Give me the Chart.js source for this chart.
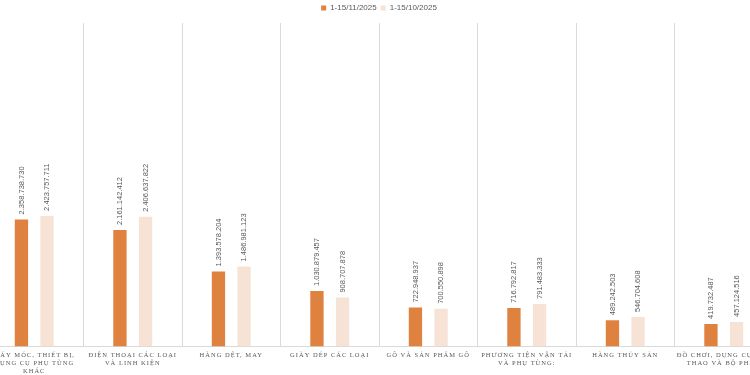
<!DOCTYPE html>
<html>
<head>
<meta charset="utf-8">
<script src="https://cdn.jsdelivr.net/npm/chart.js@4/dist/chart.umd.min.js"></script>
<style>
  html, body { margin: 0; padding: 0; background: #fff; overflow: hidden; width: 750px; height: 375px; }
  #wrap { position: absolute; left: -15px; top: 0; width: 788px; height: 375px; }
</style>
</head>
<body>
<div id="wrap"><canvas id="c"></canvas></div>
<script>
const categories = [
  ["MÁY MÓC, THIẾT BỊ,", "DỤNG CỤ PHỤ TÙNG", "KHÁC"],
  ["ĐIỆN THOẠI CÁC LOẠI", "VÀ LINH KIỆN"],
  ["HÀNG DỆT, MAY"],
  ["GIÀY DÉP CÁC LOẠI"],
  ["GỖ VÀ SẢN PHẨM GỖ"],
  ["PHƯƠNG TIỆN VẬN TẢI", "VÀ PHỤ TÙNG:"],
  ["HÀNG THỦY SẢN"],
  ["ĐỒ CHƠI, DỤNG CỤ THỂ", "THAO VÀ BỘ PHẬN"]
];
const seriesNames = ["1-15/11/2025", "1-15/10/2025"];
const novValues = [2358738730, 2161142412, 1393578204, 1030879457, 722948937, 716792817, 489242503, 419732487];
const octValues = [2423757711, 2406637822, 1486981123, 908707878, 700550898, 791483333, 546704608, 457124516];
const yMax = 6000000000;

function fmt(v) {
  return String(Math.round(v)).replace(/\B(?=(\d{3})+(?!\d))/g, ".");
}

const valueLabels = {
  id: "valueLabels",
  afterDatasetsDraw(chart) {
    const ctx = chart.ctx;
    ctx.save();
    ctx.fillStyle = "#595959";
    ctx.font = "7.5px 'Liberation Sans', Arial, sans-serif";
    ctx.textAlign = "left";
    ctx.textBaseline = "middle";
    chart.data.datasets.forEach((ds, di) => {
      const meta = chart.getDatasetMeta(di);
      meta.data.forEach((bar, i) => {
        ctx.save();
        ctx.translate(bar.x, bar.y - 5);
        ctx.rotate(-Math.PI / 2);
        ctx.fillText(fmt(ds.data[i]), 0, 0);
        ctx.restore();
      });
    });
    ctx.restore();
  }
};

const spacedTicks = {
  id: "spacedTicks",
  beforeDraw(chart) {
    const sc = chart.scales.x;
    if (sc && !sc.__spaced) {
      const orig = sc.drawLabels;
      sc.drawLabels = function (area) {
        const ctx = this.ctx;
        ctx.save();
        ctx.letterSpacing = "1px";
        orig.call(this, area);
        ctx.restore();
      };
      sc.__spaced = true;
    }
  }
};

new Chart(document.getElementById("c"), {
  type: "bar",
  data: {
    labels: categories,
    datasets: [
      { label: seriesNames[0], data: novValues, backgroundColor: "#E0823F", categoryPercentage: 0.52, barPercentage: 0.52 },
      { label: seriesNames[1], data: octValues, backgroundColor: "#F7E3D5", categoryPercentage: 0.52, barPercentage: 0.52 }
    ]
  },
  options: {
    responsive: true,
    maintainAspectRatio: false,
    animation: false,
    layout: { padding: { top: 0, bottom: -5, left: 0, right: 0 } },
    plugins: {
      tooltip: { enabled: false },
      legend: {
        position: "top",
        labels: {
          boxWidth: 5,
          boxHeight: 5,
          padding: 4,
          color: "#595959",
          font: { family: "'Liberation Sans', Arial, sans-serif", size: 8, lineHeight: 1.1 }
        }
      }
    },
    scales: {
      x: {
        offset: true,
        grid: { display: true, offset: true, color: "#d9d9d9", drawTicks: false },
        border: { display: true, color: "#d9d9d9" },
        ticks: {
          autoSkip: false,
          maxRotation: 0,
          minRotation: 0,
          padding: 5,
          color: "#595959",
          font: { family: "'Liberation Serif', 'Times New Roman', serif", size: 6.5, lineHeight: 1.2 }
        }
      },
      xTop: {
        type: "category",
        position: "top",
        display: true,
        grid: { display: false, drawTicks: true, tickLength: 1 },
        border: { display: false },
        ticks: { display: false }
      },
      y: {
        display: false,
        min: 0,
        max: yMax
      }
    }
  },
  plugins: [valueLabels, spacedTicks]
});
</script>
</body>
</html>
